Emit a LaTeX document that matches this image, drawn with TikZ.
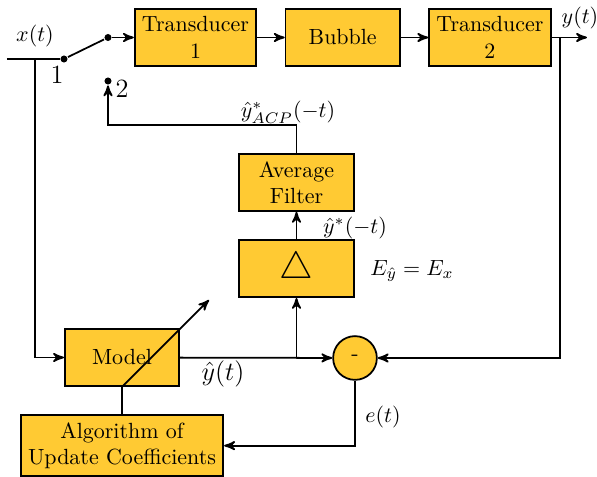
\documentclass[tikz,border=0pt]{standalone}
\usepackage{tikz}
\usepackage{xcolor}
\usetikzlibrary{arrows}
\usetikzlibrary{positioning}
\definecolor{boxyellow}{RGB}{255,202,51}

\begin{document}
\begin{tikzpicture}[->, >=stealth', thick, x=0.016cm, y=-0.016cm, node distance=0.44cm,
                block/.style={rectangle,draw,fill=boxyellow,minimum width=1.83cm,minimum height=0.91cm,align=center},
                sum node/.style={circle,draw,fill=boxyellow,minimum size=0.7cm,inner sep=0pt},
                dot/.style={circle,fill,inner sep=0pt,minimum size=3.2pt},
                label node/.style={inner sep=1pt}]

      \useasboundingbox (0,0) rectangle (597,477);

      % forward path
      \node[block] (T1) at (195.5,37.5) {Transducer\\1};
      \node[block] (B) [right=of T1] {Bubble};
      \node[block] (T2) [right=of B] {Transducer\\2};

      % switch
      \coordinate (in) at (7,59);
      \coordinate (split) at (35,59);
      \node[dot] (S1) at (64,59) {};
      \node[dot] (S0) at (108,37.5) {};
      \node[dot] (S2) at (108,81) {};
      \node[label node] (l1) at (57,75) {\large 1};
      \node[label node] (l2) at (122,89) {\large 2};
      \node[label node] (lx) [above=4pt of split] {$x(t)$};

      % inverse path
      \node[block] (AF) at (296.5,182.5) {Average\\Filter};
      \node[block] (D) [below=of AF] {\LARGE$\triangle$};
      \node[block] (M) at (122,357.5) {Model};
      \node[block, minimum width=3.22cm] (A) [below=of M] {Algorithm of\\Update Coefficients};
      \node[sum node] (S) at (355,358) {-};

      \coordinate (out) at (587,37.5);
      \coordinate (tap) at (560,37.5);
      \coordinate (fb) at (108,125);
      \coordinate (br) at (D.south |- M.east);
      \coordinate (tip) at (209,300);

      \draw[-] (in) -- (S1);
      \draw[-] (S1) -- (S0);
      \draw (S0) -- (T1);
      \draw (T1) -- (B);
      \draw (B) -- (T2);
      \draw (T2) -- (out);
      \draw (tap) |- (S);
      \draw (split) |- (M);
      \draw (M) -- (S);
      \draw (br) -- (D);
      \draw (D) -- (AF);
      \draw (AF.north) |- (fb) -- (S2);
      \draw (S) |- (A);
      \draw (A) -- (M.south) -- (tip);

      % labels
      \node[label node] (ly) at (580,18) {$y(t)$};
      \node[label node] (lacp) at (288,112) {$\hat{y}^*_{ACP}(-t)$};
      \node[label node] (lstar) at (355,228) {$\hat{y}^*(-t)$};
      \node[label node] (le) at (412,271) {$E_{\hat{y}}=E_x$};
      \node[label node] (lyh) at (223,374) {\large $\hat{y}(t)$};
      \node[label node] (lerr) at (383,417) {$e(t)$};
  \end{tikzpicture}
\end{document}
